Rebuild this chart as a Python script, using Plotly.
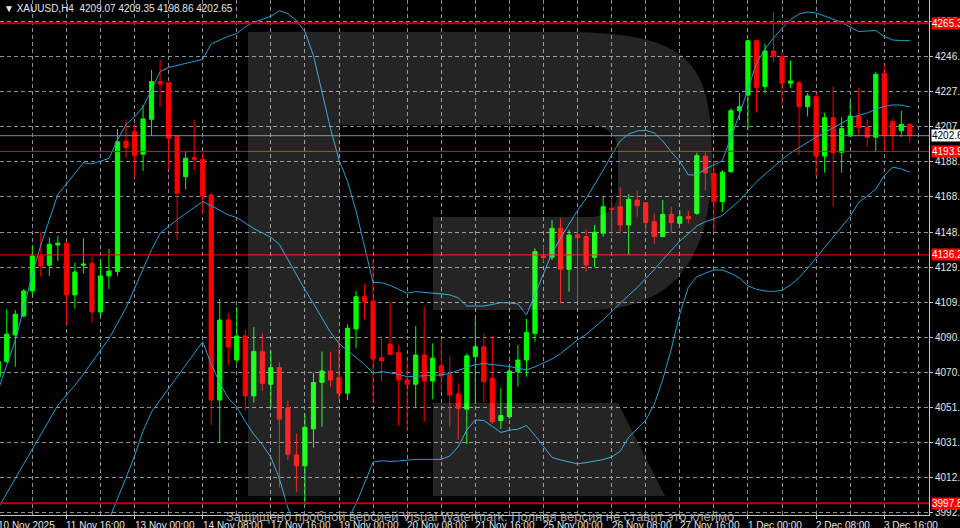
import plotly.graph_objects as go

# ---------------- data ----------------
bars = list(range(108))

open_ = [4068.3, 4076.7, 4091.6, 4102.2, 4116.1, 4135.6, 4130.4, 4141.7, 4142.7, 4113.9,
         4130.4, 4131.5, 4104.4, 4124.5, 4126.9, 4199.7, 4204.9, 4192.3, 4211.8, 4232.8,
         4232.2, 4202.1, 4179.8, 4190.4, 4189.5, 4169.6, 4055.3, 4099.9, 4077.6, 4091.0,
         4057.6, 4082.3, 4064.1, 4073.3, 4051.0, 4024.7, 4018.6, 4039.2, 4065.2, 4071.5,
         4067.8, 4059.1, 4094.9, 4112.9, 4110.5, 4078.9, 4086.4, 4081.7, 4066.5, 4064.1,
         4080.4, 4065.9, 4074.5, 4069.3, 4058.7, 4050.2, 4079.5, 4085.0, 4067.4, 4043.8,
         4046.0, 4071.1, 4077.6, 4092.5, 4135.6, 4134.9, 4151.0, 4128.2, 4147.3, 4146.4,
         4134.9, 4148.3, 4162.2, 4163.1, 4152.9, 4166.8, 4165.3, 4154.7, 4146.4, 4158.8,
         4153.8, 4157.5, 4159.4, 4191.3, 4181.7, 4165.9, 4182.6, 4216.6, 4225.3, 4255.6,
         4230.0, 4249.9, 4246.7, 4231.9, 4232.2, 4218.8, 4224.4, 4191.3, 4212.7, 4193.4,
         4202.5, 4213.6, 4207.3, 4201.8, 4237.4, 4210.5, 4205.4, 4209.07]
high = [4080.4, 4105.9, 4105.5, 4117.2, 4141.2, 4149.1, 4146.0, 4146.8, 4143.1, 4131.9,
        4145.5, 4135.2, 4133.4, 4139.5, 4206.4, 4211.8, 4209.0, 4219.8, 4239.3, 4245.2,
        4232.5, 4203.1, 4194.1, 4211.4, 4193.2, 4170.9, 4111.5, 4103.7, 4107.3, 4094.4,
        4095.9, 4092.5, 4082.8, 4076.4, 4055.0, 4036.4, 4047.5, 4070.6, 4082.3, 4082.3,
        4088.8, 4097.5, 4116.1, 4120.0, 4133.4, 4091.0, 4110.1, 4086.0, 4077.6, 4096.6,
        4107.3, 4086.9, 4088.8, 4079.9, 4064.6, 4081.4, 4101.2, 4092.5, 4091.0, 4061.9,
        4073.9, 4086.0, 4100.5, 4139.9, 4141.2, 4155.7, 4156.6, 4150.1, 4159.4, 4150.5,
        4152.9, 4169.0, 4169.0, 4173.9, 4170.2, 4172.0, 4165.3, 4159.4, 4166.8, 4163.1,
        4161.2, 4160.9, 4193.2, 4193.2, 4188.7, 4183.5, 4217.9, 4226.6, 4256.0, 4256.2,
        4253.8, 4271.6, 4248.9, 4244.5, 4233.3, 4226.3, 4226.6, 4215.5, 4230.4, 4212.9,
        4221.6, 4229.1, 4211.8, 4238.3, 4242.1, 4212.4, 4216.6, 4209.35]
low = [4063.7, 4076.0, 4073.9, 4101.3, 4113.9, 4124.1, 4124.5, 4132.8, 4096.6, 4106.2,
       4126.0, 4098.4, 4102.6, 4117.2, 4124.6, 4190.4, 4179.2, 4183.0, 4202.5, 4218.8,
       4183.5, 4144.5, 4172.8, 4183.5, 4159.0, 4041.4, 4031.5, 4074.8, 4075.8, 4049.4,
       4053.8, 4060.4, 4051.0, 4006.5, 4021.9, 4004.2, 3996.8, 4028.8, 4040.5, 4062.8,
       4055.7, 4055.3, 4084.2, 4100.3, 4053.5, 4065.5, 4080.4, 4041.0, 4038.2, 4050.7,
       4043.2, 4055.7, 4060.0, 4040.5, 4033.0, 4030.8, 4053.1, 4053.8, 4042.0, 4039.2,
       4044.7, 4062.8, 4068.3, 4087.8, 4132.3, 4133.4, 4109.2, 4115.7, 4110.7, 4126.9,
       4129.3, 4146.4, 4146.4, 4148.3, 4136.2, 4157.5, 4148.3, 4142.3, 4146.2, 4148.3,
       4153.4, 4153.8, 4158.5, 4172.4, 4149.1, 4160.3, 4181.9, 4211.4, 4205.8, 4215.5,
       4226.3, 4243.9, 4219.8, 4229.1, 4191.9, 4213.3, 4180.2, 4182.0, 4163.1, 4182.0,
       4202.0, 4202.5, 4196.5, 4193.7, 4193.7, 4194.3, 4202.1, 4198.86]
close = [4076.7, 4092.0, 4103.1, 4116.1, 4135.6, 4130.0, 4142.1, 4142.7, 4113.9, 4126.7,
         4131.1, 4104.4, 4124.5, 4127.2, 4199.3, 4196.0, 4191.5, 4212.0, 4232.8, 4231.5,
         4201.2, 4170.6, 4190.1, 4189.5, 4169.0, 4055.3, 4099.9, 4084.9, 4091.0, 4057.6,
         4082.3, 4064.6, 4073.3, 4044.6, 4025.1, 4018.6, 4040.1, 4065.0, 4071.5, 4066.5,
         4059.1, 4095.3, 4112.9, 4110.1, 4078.2, 4077.1, 4080.8, 4066.5, 4064.1, 4080.4,
         4065.9, 4078.6, 4068.7, 4058.1, 4050.7, 4079.9, 4085.0, 4065.5, 4043.2, 4046.6,
         4071.5, 4077.6, 4092.9, 4138.0, 4134.7, 4151.0, 4128.2, 4147.3, 4145.8, 4130.6,
         4148.8, 4163.1, 4161.6, 4152.9, 4167.2, 4163.6, 4154.2, 4146.4, 4158.8, 4154.2,
         4157.5, 4156.4, 4191.5, 4182.0, 4165.9, 4182.3, 4216.6, 4218.8, 4255.6, 4229.6,
         4249.9, 4246.7, 4231.9, 4233.2, 4218.8, 4224.8, 4191.3, 4212.7, 4193.2, 4206.6,
         4213.6, 4207.3, 4201.8, 4236.9, 4203.1, 4203.1, 4209.0, 4202.65]

bb_upper = [4060.9, 4074.5, 4088.5, 4106.5, 4125.4, 4141.7, 4156.0, 4169.9, 4175.7, 4181.5,
            4187.6, 4186.9, 4188.6, 4190.0, 4200.3, 4208.9, 4213.1, 4218.8, 4228.1, 4238.3,
            4240.7, 4241.8, 4242.9, 4244.0, 4245.2, 4253.8, 4256.1, 4258.1, 4259.6, 4263.4,
            4265.9, 4267.4, 4269.2, 4272.4, 4270.6, 4266.9, 4260.7, 4247.4, 4227.2, 4206.6,
            4189.2, 4177.2, 4160.7, 4141.5, 4120.8, 4120.7, 4119.2, 4117.0, 4114.9, 4115.7,
            4115.4, 4115.1, 4114.5, 4113.9, 4112.2, 4107.7, 4107.5, 4107.7, 4108.6, 4109.6,
            4109.4, 4108.9, 4102.7, 4114.4, 4126.1, 4137.2, 4145.5, 4153.4, 4161.0, 4167.5,
            4175.1, 4183.4, 4191.9, 4199.7, 4203.6, 4205.3, 4205.6, 4204.2, 4199.7, 4193.6,
            4188.2, 4180.8, 4180.8, 4184.1, 4186.3, 4188.8, 4201.9, 4214.5, 4228.7, 4242.9,
            4251.0, 4257.1, 4262.4, 4267.4, 4270.5, 4271.6, 4271.1, 4269.4, 4267.7, 4265.8,
            4263.3, 4260.7, 4261.0, 4261.3, 4258.0, 4256.0, 4255.7, 4255.6]
bb_middle = [3995.1, 4003.2, 4011.6, 4019.8, 4028.0, 4036.2, 4044.5, 4052.4, 4058.0, 4063.5,
             4069.8, 4076.2, 4082.8, 4089.5, 4098.0, 4106.6, 4117.4, 4128.5, 4139.1, 4148.3,
             4152.3, 4155.8, 4159.3, 4162.5, 4165.9, 4163.6, 4161.2, 4158.5, 4157.0, 4154.1,
             4150.9, 4148.5, 4146.0, 4142.0, 4133.5, 4125.0, 4116.8, 4109.1, 4100.8, 4093.0,
             4086.8, 4082.9, 4079.3, 4075.1, 4070.3, 4071.1, 4070.4, 4069.6, 4068.3, 4068.5,
             4068.7, 4069.1, 4069.3, 4070.1, 4071.9, 4073.6, 4075.0, 4075.6, 4075.1, 4074.6,
             4074.0, 4073.0, 4072.1, 4073.8, 4075.8, 4078.2, 4081.2, 4085.0, 4088.8, 4091.9,
             4095.7, 4099.9, 4104.6, 4109.4, 4113.7, 4118.0, 4122.8, 4128.0, 4133.5, 4138.7,
             4143.9, 4148.0, 4152.3, 4154.7, 4156.2, 4158.2, 4162.2, 4166.5, 4171.7, 4176.9,
             4181.2, 4185.5, 4189.3, 4193.1, 4196.0, 4199.2, 4201.8, 4204.4, 4207.0, 4209.6,
             4212.3, 4214.0, 4215.3, 4217.4, 4219.0, 4219.8, 4219.7, 4218.7]
bb_lower = [3929.4, 3931.9, 3934.7, 3933.2, 3930.7, 3930.7, 3932.9, 3934.9, 3940.2, 3945.4,
            3951.9, 3965.6, 3977.1, 3989.1, 3999.6, 4011.9, 4024.1, 4038.1, 4048.7, 4055.3,
            4061.4, 4068.2, 4075.0, 4081.4, 4087.8, 4075.2, 4065.0, 4056.3, 4051.5, 4043.3,
            4036.2, 4030.4, 4023.4, 4011.6, 3995.1, 3983.2, 3972.8, 3970.8, 3974.3, 3979.4,
            3984.3, 3988.6, 3997.4, 4008.8, 4020.7, 4021.4, 4021.1, 4021.3, 4021.9, 4022.2,
            4022.2, 4022.1, 4022.2, 4024.1, 4029.3, 4038.6, 4044.2, 4043.9, 4040.4, 4037.2,
            4038.5, 4039.0, 4041.1, 4035.6, 4029.4, 4023.3, 4021.9, 4020.7, 4019.7, 4020.4,
            4021.1, 4022.1, 4023.5, 4026.7, 4034.6, 4039.4, 4044.0, 4052.9, 4066.7, 4083.7,
            4103.2, 4118.2, 4124.0, 4126.0, 4127.8, 4127.8, 4125.9, 4123.4, 4118.9, 4117.0,
            4116.1, 4115.8, 4116.4, 4119.5, 4123.5, 4128.7, 4134.5, 4140.3, 4145.9, 4151.5,
            4157.7, 4165.6, 4168.9, 4172.9, 4180.4, 4185.2, 4184.1, 4182.3]

tick_bars = [0, 8, 16, 24, 32, 40, 48, 56, 64, 72, 80, 88, 96, 104]
tick_labels = ["10 Nov 2025", "11 Nov 16:00", "13 Nov 00:00", "14 Nov 08:00", "17 Nov 16:00",
               "19 Nov 00:00", "20 Nov 08:00", "21 Nov 16:00", "25 Nov 00:00", "26 Nov 08:00",
               "27 Nov 16:00", "1 Dec 00:00", "2 Dec 08:00", "3 Dec 16:00"]

price_grid = [3992.5, 4012.1, 4031.6, 4051.2, 4070.7, 4090.3, 4109.8, 4129.4, 4148.9,
              4168.5, 4188.0, 4207.6, 4227.1, 4246.7, 4266.2]
price_grid_text = ["3992.50", "4012.05", "4031.60", "4051.15", "4070.70", "4090.25", "4109.80",
                   "4129.35", "4148.90", "4168.45", "4188.00", "4207.55", "4227.10", "4246.65",
                   "4266.20"]

level_lines = [4265.3, 4193.9, 4136.2, 3997.8]
level_text = ["4265.30", "4193.90", "4136.20", "3997.80"]
level_widths = [2, 1, 1, 2]
level_colors = ["#c00000", "#ff0000", "#ff0000", "#c00000"]

symbol = "XAUUSD,H4"
watermark_text = "Защищено пробной версией Visual Watermark. Полная версия не ставит это клеймо"

# ---------------- layout constants ----------------
W, H = 960, 528
ML, MR, MT, MB = 0, 31, 0, 13
PW, PH = W - ML - MR, H - MT - MB
X_RANGE = [0.209, 109.25]
Y_RANGE = [3991.2, 4278.3]
FONT = "Liberation Sans, Arial, DejaVu Sans, sans-serif"
BB_COLOR = "#1f9fd8"
GRID_COLOR = "#8a9098"
TXT = "#e6e6e6"

fig = go.Figure()

fig.add_trace(go.Candlestick(
    x=bars, open=open_, high=high, low=low, close=close,
    increasing=dict(line=dict(color="#00ff00", width=1), fillcolor="#00ff00"),
    decreasing=dict(line=dict(color="#ff0000", width=1), fillcolor="#ff0000"),
    whiskerwidth=0, hoverinfo="skip", showlegend=False))

for series in (bb_upper, bb_middle, bb_lower):
    fig.add_trace(go.Scatter(x=bars, y=series, mode="lines",
                             line=dict(color=BB_COLOR, width=1),
                             hoverinfo="skip", showlegend=False))

shapes = []
for lv, w, c in zip(level_lines, level_widths, level_colors):
    shapes.append(dict(type="line", xref="paper", x0=0, x1=1, yref="y", y0=lv, y1=lv,
                       line=dict(color=c, width=w), layer="above"))
shapes.append(dict(type="line", xref="paper", x0=0, x1=1, yref="y",
                   y0=close[-1], y1=close[-1],
                   line=dict(color="#7788a0", width=1), layer="above"))


def P(x, y):
    return f"{x / PW:.5f},{1 - y / PH:.5f}"


wm_fill = "rgba(255,255,255,0.14)"
stem = f"M{P(248,32)} L{P(340,32)} L{P(340,496)} L{P(248,496)} Z"
bowl = (f"M{P(340,32)} L{P(560,32)} C{P(690,32)} {P(712,60)} {P(712,160)} "
        f"C{P(712,250)} {P(680,310)} {P(590,310)} L{P(433,310)} L{P(433,217)} "
        f"L{P(590,217)} C{P(610,217)} {P(618,205)} {P(618,190)} L{P(618,150)} "
        f"C{P(618,135)} {P(605,125)} {P(590,125)} L{P(340,125)} Z")
leg = f"M{P(433,403)} L{P(618,403)} L{P(665,496)} L{P(433,496)} Z"
for pth in (stem, bowl, leg):
    shapes.append(dict(type="path", xref="paper", yref="paper", path=pth,
                       fillcolor=wm_fill, line=dict(width=0), layer="above"))

annotations = []
# title
annotations.append(dict(
    xref="paper", yref="paper", x=0, y=1, xanchor="left", yanchor="top",
    xshift=2, yshift=-1, showarrow=False,
    text=f"\u25BC {symbol}\u00a0\u00a0{open_[-1]:.2f} {high[-1]:.2f} {low[-1]:.2f} {close[-1]:.2f}",
    font=dict(family=FONT, size=10, color=TXT)))

# time labels (left aligned at tick position)
for b, t in zip(tick_bars, tick_labels):
    xp = (b - X_RANGE[0]) / (X_RANGE[1] - X_RANGE[0])
    annotations.append(dict(
        xref="paper", yref="paper", x=xp, y=0, xanchor="left", yanchor="top",
        xshift=-2, yshift=-3, showarrow=False, text=t,
        font=dict(family=FONT, size=10, color=TXT)))

# level labels on the price scale
for lv, t in zip(level_lines, level_text):
    annotations.append(dict(
        xref="paper", yref="y", x=1, y=lv, xanchor="left", yanchor="middle",
        xshift=2, showarrow=False, text=t, bgcolor="#ff0000", borderpad=0,
        font=dict(family=FONT, size=10, color="#ffffff")))
annotations.append(dict(
    xref="paper", yref="y", x=1, y=close[-1], xanchor="left", yanchor="middle",
    xshift=2, showarrow=False, text=f"{close[-1]:.2f}", bgcolor="#ffffff", borderpad=0,
    font=dict(family=FONT, size=10, color="#000000")))

# watermark text
annotations.append(dict(
    xref="paper", yref="paper", x=479.5 / PW, y=(PH - 516.5) / PH,
    xanchor="center", yanchor="middle", showarrow=False, text=watermark_text,
    font=dict(family=FONT, size=13, color="rgba(185,185,185,0.9)")))

fig.update_layout(
    width=W, height=H, margin=dict(l=ML, r=MR, t=MT, b=MB, pad=0),
    paper_bgcolor="#000000", plot_bgcolor="#000000",
    template="none", showlegend=False,
    shapes=shapes, annotations=annotations,
    xaxis=dict(range=X_RANGE, rangeslider=dict(visible=False), automargin=False,
               tickmode="array", tickvals=tick_bars, showticklabels=False,
               ticks="outside", ticklen=3, tickcolor="#c8c8c8",
               showgrid=True, gridcolor=GRID_COLOR, griddash="4px,3px", gridwidth=1,
               minor=dict(tickmode="linear", tick0=0, dtick=4, showgrid=True,
                          gridcolor=GRID_COLOR, griddash="4px,3px", gridwidth=1, ticks=""),
               showline=True, linecolor="#c8c8c8", linewidth=1, zeroline=False,
               fixedrange=True),
    yaxis=dict(range=Y_RANGE, side="right", automargin=False,
               tickmode="array", tickvals=price_grid, ticktext=price_grid_text,
               ticks="outside", ticklen=3, tickcolor="#c8c8c8",
               tickfont=dict(family=FONT, size=10, color=TXT),
               showgrid=True, gridcolor=GRID_COLOR, griddash="4px,3px", gridwidth=1,
               showline=True, linecolor="#c8c8c8", linewidth=1, zeroline=False,
               fixedrange=True),
)

fig.write_html(
    "out.html",
    config={"displayModeBar": False},
    post_script="document.body.style.margin='0';document.body.style.padding='0';"
                "document.body.style.overflow='hidden';document.body.style.background='#000';",
)
